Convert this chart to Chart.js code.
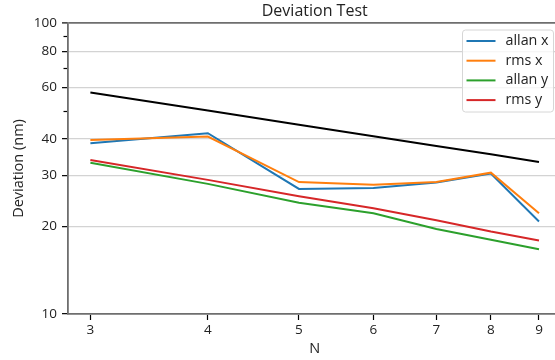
<!DOCTYPE html>
<html>
<head>
<meta charset="utf-8">
<script src="https://cdn.jsdelivr.net/npm/chart.js@4/dist/chart.umd.min.js"></script>
<style>
  html, body { margin: 0; padding: 0; background: #fff; overflow: hidden; width: 555px; height: 360px; }
  #wrap { position: absolute; left: 0; top: 0; width: 565px; height: 360px; }
</style>
</head>
<body>
<div id="wrap"><canvas id="chart" width="565" height="360"></canvas></div>
<script>
// Data
const nValues = [3, 4, 5, 6, 7, 8, 9];
const allanX = [38.6, 41.8, 26.9, 27.1, 28.3, 30.4, 20.8];
const rmsX = [39.6, 40.7, 28.4, 27.8, 28.4, 30.6, 22.2];
const allanY = [33.1, 28.0, 24.1, 22.2, 19.6, 18.0, 16.7];
const rmsY = [33.8, 28.9, 25.4, 23.1, 21.0, 19.2, 17.9];
const refLine = [57.7, 50.0, 44.7, 40.8, 37.8, 35.4, 33.3];

const xTicks = [3, 4, 5, 6, 7, 8, 9];
const yTicks = [10, 20, 30, 40, 60, 80, 100];
const yMinorTicks = [50, 70, 90];

const chartTitle = 'Deviation Test';
const FONT = 'Open Sans';

const pts = (vals) => nValues.map((n, i) => ({ x: n, y: vals[i] }));

const series = [
    { label: 'allan x', data: allanX, color: '#1f77b4' },
    { label: 'rms x', data: rmsX, color: '#ff7f0e' },
    { label: 'allan y', data: allanY, color: '#2ca02c' },
    { label: 'rms y', data: rmsY, color: '#d62728' }
];

const datasets = series.map((s, i) => ({
    label: s.label,
    data: pts(s.data),
    borderColor: s.color,
    borderWidth: 2,
    pointRadius: 0,
    tension: 0,
    order: 10 - i
}));
datasets.push({
    label: 'ref',
    data: pts(refLine),
    borderColor: '#000',
    borderWidth: 2,
    pointRadius: 0,
    tension: 0,
    order: 20
});

// title over the plot area, minor y ticks, boxed legend like matplotlib
const extras = {
    id: 'extras',
    afterDraw(chart) {
        const ctx = chart.ctx;
        const area = chart.chartArea;
        const y = chart.scales.y;
        ctx.save();

        ctx.fillStyle = '#222';
        ctx.font = '16px "' + FONT + '"';
        ctx.textAlign = 'center';
        ctx.textBaseline = 'alphabetic';
        ctx.fillText(chartTitle, (area.left + area.right) / 2, area.top - 7.5);

        ctx.strokeStyle = '#000';
        ctx.lineWidth = 1.2;
        yMinorTicks.forEach(v => {
            const py = Math.round(y.getPixelForValue(v)) + 0.5;
            ctx.beginPath();
            ctx.moveTo(area.left - 4.5, py);
            ctx.lineTo(area.left - 1, py);
            ctx.stroke();
        });

        // legend box
        const bw = 91, bh = 82;
        const bx = area.right - 8.5 - bw;
        const by = area.top + 6.5;
        ctx.beginPath();
        ctx.roundRect(bx + 0.5, by + 0.5, bw, bh, 3);
        ctx.fillStyle = 'rgba(255,255,255,0.8)';
        ctx.fill();
        ctx.strokeStyle = '#d6d6d6';
        ctx.lineWidth = 1;
        ctx.stroke();

        ctx.font = '14.3px "' + FONT + '"';
        ctx.textBaseline = 'middle';
        ctx.textAlign = 'left';
        series.forEach((s, i) => {
            const cy = by + 11.5 + i * 19.7;
            ctx.strokeStyle = s.color;
            ctx.lineWidth = 2;
            ctx.beginPath();
            ctx.moveTo(bx + 4.5, cy);
            ctx.lineTo(bx + 33.5, cy);
            ctx.stroke();
            ctx.fillStyle = '#222';
            ctx.fillText(s.label, bx + 43.5, cy);
        });
        ctx.restore();
    }
};

new Chart(document.getElementById('chart').getContext('2d'), {
    type: 'line',
    data: { datasets: datasets },
    options: {
        responsive: false,
        animation: false,
        layout: { padding: { left: 0, right: 3.5, top: 23, bottom: 0 } },
        plugins: {
            legend: { display: false },
            tooltip: { enabled: false },
            title: { display: false }
        },
        scales: {
            x: {
                type: 'logarithmic',
                min: 2.84,
                max: 9.51,
                afterBuildTicks: (scale) => { scale.ticks = xTicks.map(v => ({ value: v })); },
                afterFit: (scale) => { scale.height = 46; },
                ticks: {
                    color: '#222',
                    font: { family: FONT, size: 13.5 },
                    padding: 2,
                    maxRotation: 0,
                    autoSkip: false,
                    callback: (v) => String(v)
                },
                grid: {
                    drawOnChartArea: false,
                    tickLength: 6,
                    tickColor: '#000',
                    tickWidth: 1.2
                },
                border: { display: true, color: '#6e6e6e', width: 1.8 },
                title: {
                    display: true,
                    text: 'N',
                    color: '#222',
                    font: { family: FONT, size: 14.5 },
                    padding: { top: 0, bottom: 2 }
                }
            },
            y: {
                type: 'logarithmic',
                min: 10,
                max: 100,
                afterBuildTicks: (scale) => { scale.ticks = yTicks.map(v => ({ value: v })); },
                afterFit: (scale) => { scale.width = 68; },
                ticks: {
                    color: '#222',
                    font: { family: FONT, size: 13.5 },
                    padding: 5,
                    autoSkip: false,
                    callback: (v) => String(v)
                },
                grid: {
                    color: (c) => (c.tick && c.tick.value === 100) ? '#6e6e6e' : (c.tick && c.tick.value === 10 ? 'transparent' : '#d3d3d3'),
                    lineWidth: (c) => (c.tick && c.tick.value === 100) ? 1.8 : 1.3,
                    tickLength: 6,
                    tickColor: '#000',
                    tickWidth: 1.2
                },
                border: { display: true, color: '#6e6e6e', width: 1.8 },
                title: {
                    display: true,
                    text: 'Deviation (nm)',
                    color: '#222',
                    font: { family: FONT, size: 14.5 },
                    padding: { top: 10.5, bottom: 0 }
                }
            }
        }
    },
    plugins: [extras]
});
</script>
</body>
</html>
